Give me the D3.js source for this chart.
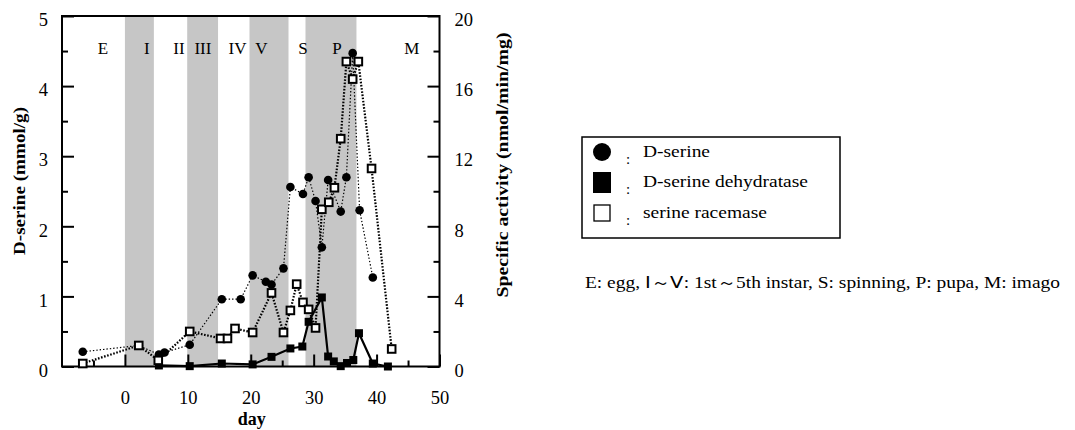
<!DOCTYPE html>
<html><head><meta charset="utf-8">
<script src="https://cdn.jsdelivr.net/npm/d3@7"></script>
<style>
body{margin:0;background:#fff;}
svg{display:block;font-family:"Liberation Serif","Times New Roman",serif;}
</style></head>
<body><svg id="c" width="1075" height="430"></svg>
<script>
// ---- data ----
const serDays = [-6.7, 2.2, 5.4, 6.3, 10.3, 15.4, 18.4, 20.3, 22.4, 23.3, 25.2, 26.3, 28.3, 29.2, 30.3, 31.3, 32.3, 34.3, 35.2, 36.2, 37.3, 39.4];
const dSerine = [0.21, 0.30, 0.17, 0.20, 0.31, 0.96, 0.96, 1.30, 1.21, 1.17, 1.40, 2.56, 2.46, 2.70, 2.36, 1.70, 2.66, 2.21, 2.70, 4.47, 2.23, 1.27];

const racDays = [-6.7, 2.2, 5.3, 10.3, 15.2, 16.3, 17.5, 20.3, 23.3, 25.2, 26.3, 27.3, 28.3, 29.2, 30.3, 31.3, 32.4, 33.3, 34.3, 35.2, 36.2, 37.1, 39.2, 42.4];
const racemase = [0.17, 1.2, 0.35, 2.0, 1.6, 1.6, 2.17, 1.94, 4.2, 1.94, 3.2, 4.7, 3.66, 3.26, 2.2, 8.97, 9.37, 10.2, 13.0, 17.4, 16.4, 17.4, 11.3, 1.0];

const dehDays = [5.4, 10.3, 15.4, 20.3, 23.3, 26.3, 28.2, 29.2, 31.3, 32.3, 33.2, 34.3, 35.3, 36.3, 37.2, 39.4, 41.8];
const dehydratase = [0.06, 0.02, 0.17, 0.12, 0.55, 1.03, 1.14, 2.55, 3.94, 0.57, 0.29, 0.02, 0.2, 0.37, 1.9, 0.17, 0.0];

const bandStart = [0, 9.9, 19.8, 28.7];
const bandEnd = [4.6, 14.8, 26, 36.8];
const stageLabels = ["E", "I", "II", "III", "IV", "V", "S", "P", "M"];
const stageDays = [-3.5, 3.5, 8.6, 12.4, 17.9, 21.7, 28.3, 33.7, 45.6];

const xTicks = [0, 10, 20, 30, 40, 50];
const xMinor = [-5, 5, 15, 25, 35, 45];
const yLeftTicks = [0, 1, 2, 3, 4, 5];
const yLeftMinor = [0.5, 1.5, 2.5, 3.5, 4.5];
const yRightTicks = [0, 4, 8, 12, 16, 20];
const yRightMinor = [2, 6, 10, 14, 18];

const legendLabels = ["D-serine", "D-serine dehydratase", "serine racemase"];
const legendWidths = [67, 165, 124];
const footnote = "E: egg, Ⅰ～Ⅴ: 1st～5th instar, S: spinning, P: pupa, M: imago";

// ---- layout ----
const L = 62, R = 439.5, T = 16, B = 366.5;
const svg = d3.select("#c");
const x = d3.scaleLinear().domain([-10, 50]).range([L, R]);
const yL = d3.scaleLinear().domain([0, 5]).range([B, T]);
const yR = d3.scaleLinear().domain([0, 20]).range([B, T]);

// bands
svg.append("g").selectAll("rect").data(bandStart).join("rect")
  .attr("x", (d) => x(d)).attr("y", T)
  .attr("width", (d, i) => x(bandEnd[i]) - x(d)).attr("height", B - T)
  .attr("fill", "#c6c6c6");

// stage labels
svg.append("g").selectAll("text").data(stageLabels).join("text")
  .attr("x", (d, i) => x(stageDays[i])).attr("y", 54)
  .attr("text-anchor", "middle").attr("font-size", 17).text(d => d);

// axes
function styleAxis(g) {
  g.select(".domain").remove();
  g.selectAll("line").attr("stroke", "#000").attr("stroke-width", 2);
  g.selectAll("text").attr("font-family", "Liberation Serif").attr("font-size", 18.5).attr("fill", "#000");
}
svg.append("g").attr("transform", `translate(${L},0)`)
  .call(d3.axisLeft(yL).tickValues(yLeftTicks).tickSize(-12).tickPadding(14).tickFormat(d3.format("d")))
  .call(styleAxis).selectAll("text").attr("dy", "0.85em").attr("transform","translate(0,-6)");
svg.append("g").attr("transform", `translate(${L},0)`)
  .call(d3.axisLeft(yL).tickValues(yLeftMinor).tickSize(-6).tickFormat(""))
  .call(styleAxis);
svg.append("g").attr("transform", `translate(${R},0)`)
  .call(d3.axisRight(yR).tickValues(yRightTicks).tickSize(-12).tickPadding(15).tickFormat(d3.format("d")))
  .call(styleAxis).selectAll("text").attr("dy", "0.85em").attr("transform","translate(0,-6)");
svg.append("g").attr("transform", `translate(${R},0)`)
  .call(d3.axisRight(yR).tickValues(yRightMinor).tickSize(-6).tickFormat(""))
  .call(styleAxis);
svg.append("g").attr("transform", `translate(0,${B})`)
  .call(d3.axisBottom(x).tickValues(xTicks).tickSize(-12).tickPadding(24).tickFormat(d3.format("d")))
  .call(styleAxis);
svg.append("g").attr("transform", `translate(0,${B})`)
  .call(d3.axisBottom(x).tickValues(xMinor).tickSize(-6).tickFormat(""))
  .call(styleAxis);

// frame
svg.append("rect").attr("x", L).attr("y", T).attr("width", R - L).attr("height", B - T)
  .attr("fill", "none").attr("stroke", "#000").attr("stroke-width", 2);

// titles
svg.append("text").attr("x", x(20) + 1).attr("y", 425).attr("text-anchor", "middle")
  .attr("font-weight", "bold").attr("font-size", 18).text("day");
svg.append("text").attr("transform", "translate(25,181) rotate(-90)").attr("text-anchor", "middle")
  .attr("font-weight", "bold").attr("font-size", 17)
  .attr("textLength", 148).attr("lengthAdjust", "spacingAndGlyphs").text("D-serine (mmol/g)");
svg.append("text").attr("transform", "translate(508,165) rotate(-90)").attr("text-anchor", "middle")
  .attr("font-weight", "bold").attr("font-size", 17)
  .attr("textLength", 265).attr("lengthAdjust", "spacingAndGlyphs").text("Specific activity (nmol/min/mg)");

// lines
const serPts = serDays.map((d, i) => [x(d), yL(dSerine[i])]);
const racPts = racDays.map((d, i) => [x(d), yR(racemase[i])]);
const dehPts = dehDays.map((d, i) => [x(d), yR(dehydratase[i])]);
const line = d3.line();
svg.append("path").attr("d", line(racPts)).attr("fill", "none").attr("stroke", "#000")
  .attr("stroke-width", 2.2).attr("stroke-dasharray", "1.6,1.6");
svg.append("path").attr("d", line(serPts)).attr("fill", "none").attr("stroke", "#000")
  .attr("stroke-width", 1.2).attr("stroke-dasharray", "1.4,2");
svg.append("path").attr("d", line(dehPts)).attr("fill", "none").attr("stroke", "#000")
  .attr("stroke-width", 2.2);

// markers
svg.append("g").selectAll("rect").data(dehPts).join("rect")
  .attr("x", d => d[0] - 4).attr("y", d => d[1] - 4).attr("width", 8).attr("height", 8).attr("fill", "#000");
svg.append("g").selectAll("circle").data(serPts).join("circle")
  .attr("cx", d => d[0]).attr("cy", d => d[1]).attr("r", 4.3).attr("fill", "#000");
svg.append("g").selectAll("rect").data(racPts).join("rect")
  .attr("x", d => d[0] - 3.8).attr("y", d => d[1] - 3.8).attr("width", 7.6).attr("height", 7.6)
  .attr("fill", "#fff").attr("stroke", "#000").attr("stroke-width", 2);

// legend
const lg = svg.append("g");
lg.append("rect").attr("x", 582).attr("y", 137).attr("width", 258).attr("height", 101)
  .attr("fill", "none").attr("stroke", "#000").attr("stroke-width", 1.5);
const ly = [152, 182, 213];
lg.append("circle").attr("cx", 602).attr("cy", ly[0]).attr("r", 9).attr("fill", "#000");
lg.append("rect").attr("x", 593).attr("y", ly[1] - 10).attr("width", 18).attr("height", 21).attr("fill", "#000");
lg.append("rect").attr("x", 594).attr("y", ly[2] - 8).attr("width", 16).attr("height", 16)
  .attr("fill", "#fff").attr("stroke", "#000").attr("stroke-width", 1.3);
lg.selectAll("text.c").data(legendLabels).join("text").attr("class", "c")
  .attr("x", 628).attr("y", (d, i) => ly[i] + 12).attr("text-anchor", "middle").attr("font-size", 15).text(":");
lg.selectAll("text.l").data(legendLabels).join("text").attr("class", "l")
  .attr("x", 643).attr("y", (d, i) => ly[i] + 5).attr("font-size", 16)
  .attr("textLength", (d, i) => legendWidths[i]).attr("lengthAdjust", "spacingAndGlyphs").text(d => d);

svg.append("text").attr("x", 585).attr("y", 288).attr("font-size", 16)
  .attr("textLength", 475).attr("lengthAdjust", "spacingAndGlyphs").text(footnote);
</script></body></html>
